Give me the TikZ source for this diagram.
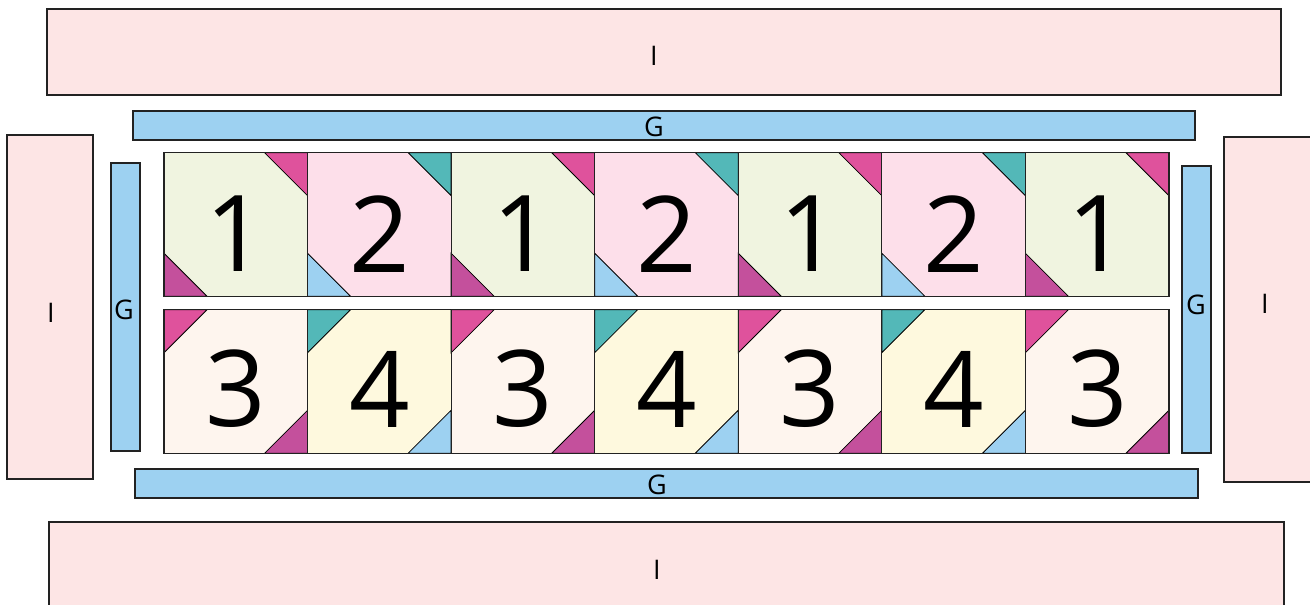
\documentclass[tikz,border=0pt]{standalone}
\usepackage{fontspec}
\setmainfont{Open Sans}
\definecolor{ipink}{HTML}{FDE5E5}
\definecolor{gblue}{HTML}{9DD1F1}
\definecolor{bgreen}{HTML}{F0F4E0}
\definecolor{bpink}{HTML}{FDDFEA}
\definecolor{bcream}{HTML}{FEF5EE}
\definecolor{byellow}{HTML}{FEF9DE}
\definecolor{tmag}{HTML}{DF529C}
\definecolor{tdmag}{HTML}{C4509C}
\definecolor{tteal}{HTML}{53B8B8}
\definecolor{tlblue}{HTML}{9DD1F1}
\definecolor{edge}{HTML}{222222}
\begin{document}
\begin{tikzpicture}[x=1pt,y=-1pt,
  ibox/.style={fill=ipink,draw=edge,line width=1.2pt},
  gbox/.style={fill=gblue,draw=edge,line width=1.2pt},
  lab/.style={font=\fontsize{27}{27}\selectfont,inner sep=0pt},
  num/.style={font=\fontsize{106}{106}\selectfont,inner sep=0pt},
  tri/.style={draw=black,line width=0.8pt},
  blk/.style={draw=edge,line width=1.2pt}]
\useasboundingbox (0,0) rectangle (1310,605);
% I borders
\path[ibox] (47,9) rectangle (1281,95);
\node[lab] (itop) at (654,56) {I};
\path[ibox] (7,135) rectangle (93,479);
\node[lab] (ileft) at (51,313) {I};
\path[ibox] (1224,137) rectangle (1320,482);
\node[lab] (iright) at (1265,304) {I};
\path[ibox] (49,522) rectangle (1284,620);
\node[lab] (ibot) at (657,570) {I};
% G sashes
\path[gbox] (133,111) rectangle (1195,140);
\node[lab] (gtop) at (654,127) {G};
\path[gbox] (111,163) rectangle (140,451);
\node[lab] (gleft) at (124,310) {G};
\path[gbox] (1182,166) rectangle (1211,453);
\node[lab] (gright) at (1196,305) {G};
\path[gbox] (135,469) rectangle (1198,498);
\node[lab] (gbot) at (657,485) {G};
% blocks
\def\s{143.57}
\def\t{43}
\foreach \i in {0,...,6}{
  \pgfmathsetmacro{\x}{164+\i*\s}
  \pgfmathtruncatemacro{\odd}{mod(\i,2)}
  \ifnum\odd=0
    \def\bga{bgreen}\def\tra{tmag}\def\bla{tdmag}\def\na{1}
    \def\bgb{bcream}\def\trb{tmag}\def\blb{tdmag}\def\nb{3}
  \else
    \def\bga{bpink}\def\tra{tteal}\def\bla{tlblue}\def\na{2}
    \def\bgb{byellow}\def\trb{tteal}\def\blb{tlblue}\def\nb{4}
  \fi
  % row 1
  \fill[\bga] (\x,152.7) rectangle ++(\s,\s);
  \path[tri,fill=\tra] (\x+\s-\t,152.7) -- ++(\t,0) -- ++(0,\t) -- cycle;
  \path[tri,fill=\bla] (\x,152.7+\s-\t) -- ++(\t,\t) -- ++(-\t,0) -- cycle;
  \draw[blk] (\x,152.7) rectangle ++(\s,\s);
  \node[num] (a\i) at (\x+72,234) {\na};
  % row 2
  \fill[\bgb] (\x,309.7) rectangle ++(\s,\s);
  \path[tri,fill=\trb] (\x,309.7) -- ++(\t,0) -- ++(-\t,\t) -- cycle;
  \path[tri,fill=\blb] (\x+\s,309.7+\s-\t) -- ++(0,\t) -- ++(-\t,0) -- cycle;
  \draw[blk] (\x,309.7) rectangle ++(\s,\s);
  \node[num] (b\i) at (\x+72,389) {\nb};
}
\end{tikzpicture}
\end{document}
